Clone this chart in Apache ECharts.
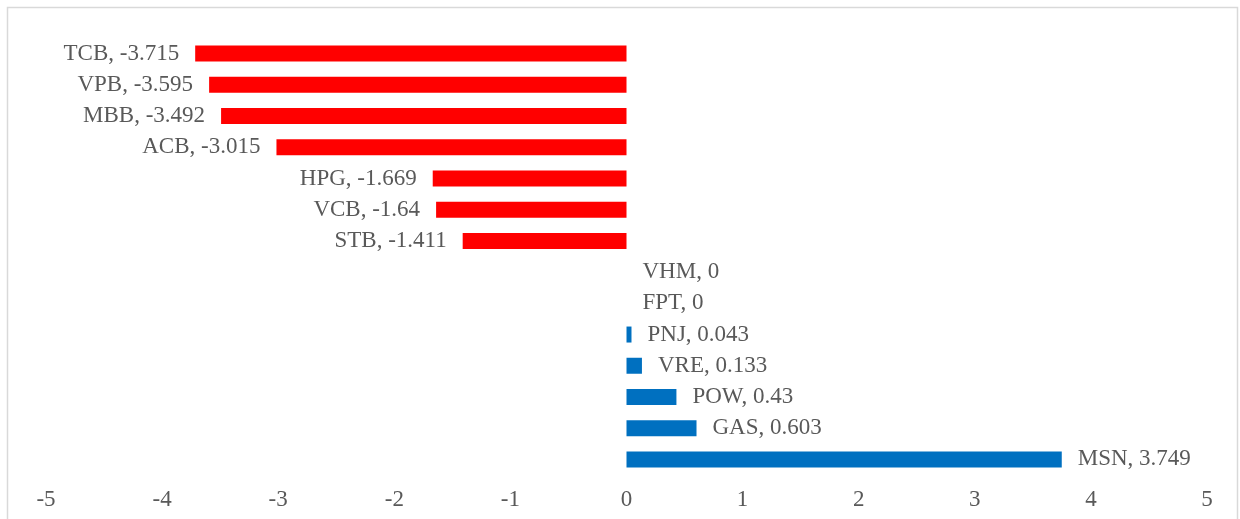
<!DOCTYPE html>
<html>
<head>
<meta charset="utf-8">
<script src="https://cdn.jsdelivr.net/npm/echarts@6/dist/echarts.min.js"></script>
<style>
  html, body { margin: 0; padding: 0; background: #fff; }
  #chart { width: 1240px; height: 519px; }
</style>
</head>
<body>
<div id="chart"></div>
<script>
// tickers, top to bottom
const tickers = ['TCB', 'VPB', 'MBB', 'ACB', 'HPG', 'VCB', 'STB', 'VHM', 'FPT', 'PNJ', 'VRE', 'POW', 'GAS', 'MSN'];
const impact = [-3.715, -3.595, -3.492, -3.015, -1.669, -1.64, -1.411, 0, 0, 0.043, 0.133, 0.43, 0.603, 3.749];
const xTicks = [-5, -4, -3, -2, -1, 0, 1, 2, 3, 4, 5];

const labelFont = 'Liberation Serif';
const textColor = '#595959';

const barData = impact.map((v, i) => ({
  value: v,
  itemStyle: { color: v < 0 ? '#ff0000' : '#0070c0' },
  label: { position: v < 0 ? 'left' : 'right' }
}));

const chart = echarts.init(document.getElementById('chart'));
chart.setOption({
  animation: false,
  grid: { left: 46, right: 33, top: 38, bottom: 44, containLabel: false },
  graphic: [{
    type: 'rect',
    shape: { x: 7.5, y: 7.5, width: 1230, height: 530 },
    style: { fill: 'none', stroke: '#d9d9d9', lineWidth: 1.5 },
    silent: true
  }],
  xAxis: {
    type: 'value',
    min: xTicks[0],
    max: xTicks[xTicks.length - 1],
    interval: 1,
    axisLine: { show: false },
    axisTick: { show: false },
    splitLine: { show: false },
    axisLabel: {
      color: textColor,
      fontFamily: labelFont,
      fontSize: 23,
      margin: 13
    }
  },
  yAxis: {
    type: 'category',
    data: tickers,
    inverse: true,
    axisLine: { show: false },
    axisTick: { show: false },
    axisLabel: { show: false }
  },
  series: [{
    type: 'bar',
    data: barData,
    barWidth: 16,
    label: {
      show: true,
      distance: 16,
      color: textColor,
      fontFamily: labelFont,
      fontSize: 23,
      formatter: p => p.name + ', ' + p.value
    }
  }]
});
</script>
</body>
</html>
